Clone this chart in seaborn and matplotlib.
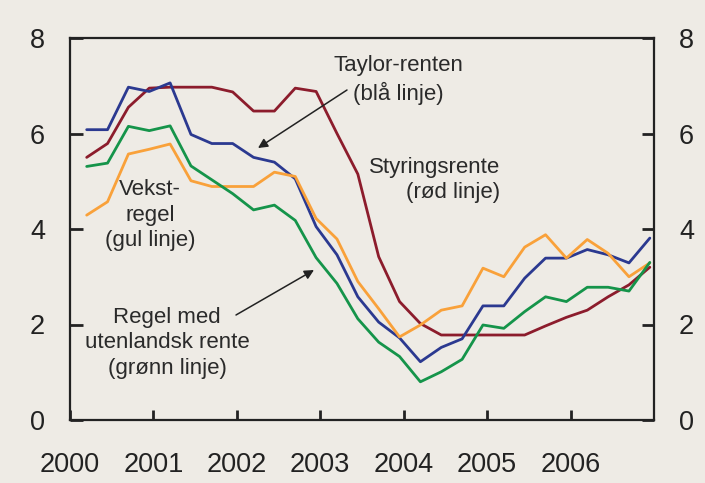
import numpy as np
import pandas as pd
import seaborn as sns
import matplotlib
matplotlib.use("Agg")
import matplotlib.pyplot as plt

# Quarterly observations 2000Q1 - 2006Q4
quarters = [2000.2 + 0.25 * k for k in range(28)]

styringsrente = [5.50, 5.79, 6.55, 6.95, 6.97, 6.97, 6.97, 6.87, 6.47, 6.47,
                 6.95, 6.88, 6.00, 5.15, 3.42, 2.48, 2.02, 1.78, 1.78, 1.78,
                 1.78, 1.78, 1.97, 2.15, 2.30, 2.58, 2.83, 3.20]
taylor = [6.08, 6.08, 6.97, 6.88, 7.06, 5.98, 5.79, 5.79, 5.50, 5.40,
          5.05, 4.05, 3.46, 2.58, 2.05, 1.72, 1.22, 1.52, 1.70, 2.39,
          2.39, 2.97, 3.39, 3.39, 3.57, 3.46, 3.29, 3.81]
vekstregel = [4.29, 4.57, 5.57, 5.67, 5.78, 5.01, 4.89, 4.89, 4.89, 5.19,
              5.10, 4.22, 3.79, 2.90, 2.33, 1.74, 1.99, 2.30, 2.39, 3.18,
              3.00, 3.62, 3.88, 3.39, 3.78, 3.49, 3.00, 3.29]
utenlandsk = [5.31, 5.38, 6.15, 6.06, 6.16, 5.32, 5.03, 4.74, 4.40, 4.50,
              4.18, 3.40, 2.86, 2.12, 1.63, 1.33, 0.80, 1.01, 1.27, 1.99,
              1.92, 2.27, 2.58, 2.48, 2.78, 2.78, 2.70, 3.30]

series_names = ["Styringsrente", "Taylor-renten", "Vekstregel", "Regel med utenlandsk rente"]
series_values = [styringsrente, taylor, vekstregel, utenlandsk]
colors = ["#8C1C2C", "#2B3990", "#F9A13A", "#15944A"]

year_ticks = [2000, 2001, 2002, 2003, 2004, 2005, 2006]
y_ticks = [0, 2, 4, 6, 8]

df = pd.concat([pd.DataFrame({"t": quarters, "v": vals, "serie": name})
                for name, vals in zip(series_names, series_values)], ignore_index=True)

sns.set_theme(style="ticks")
plt.rcParams["font.family"] = ["Liberation Sans", "DejaVu Sans"]
bg = "#EEEBE5"

fig = plt.figure(figsize=(7.05, 4.83), dpi=100, facecolor=bg)
ax = fig.add_axes([70/705, 1-420/483, (654-70)/705, (420-38)/483])
ax.set_facecolor(bg)

sns.lineplot(data=df, x="t", y="v", hue="serie", palette=dict(zip(series_names, colors)),
             linewidth=2.0, ax=ax, legend=False, sort=False)

ax.set_xlim(2000, 2007)
ax.set_ylim(0, 8)
ax.set_xticks(year_ticks)
ax.set_xticklabels([str(y) for y in year_ticks])
ax.set_yticks(y_ticks)
ax.set_xlabel("")
ax.set_ylabel("")
for s in ax.spines.values():
    s.set_visible(True)
    s.set_linewidth(1.6)
    s.set_color("#222222")
ax.tick_params(axis="x", direction="in", length=7, width=2, color="#222222",
               labelsize=19.5, pad=23, labelcolor="#222222")
ax.tick_params(axis="y", direction="in", length=9, width=2, color="#222222",
               labelsize=19.5, pad=18, labelcolor="#222222",
               left=True, right=True, labelleft=True, labelright=True)

def px2data(px, py):
    return 2000 + (px - 70) / 83.43, (420 - py) / 47.75

tc = "#2A2A2A"
fs = 16
ls = 1.3
x, y = px2data(398, 80)
ax.text(x, y, "Taylor-renten\n(blå linje)", ha="center", va="center", fontsize=fs,
        color=tc, linespacing=ls)
x, y = px2data(500, 180)
ax.text(x, y, "Styringsrente\n(rød linje)", ha="right", va="center", fontsize=fs,
        color=tc, linespacing=ls, multialignment="right")
x, y = px2data(150, 215)
ax.text(x, y, "Vekst-\nregel\n(gul linje)", ha="center", va="center", fontsize=fs,
        color=tc, linespacing=ls)
x, y = px2data(167, 343)
ax.text(x, y, "Regel med\nutenlandsk rente\n(grønn linje)", ha="center", va="center",
        fontsize=fs, color=tc, linespacing=ls)

ax.annotate("", xy=px2data(258, 148), xytext=px2data(347, 90),
            arrowprops=dict(arrowstyle="-|>", color="#222222", lw=1.1, mutation_scale=14,
                            shrinkA=0, shrinkB=0))
ax.annotate("", xy=px2data(314, 270), xytext=px2data(236, 315),
            arrowprops=dict(arrowstyle="-|>", color="#222222", lw=1.1, mutation_scale=14,
                            shrinkA=0, shrinkB=0))

fig.savefig("out.png", dpi=100, facecolor=bg)
